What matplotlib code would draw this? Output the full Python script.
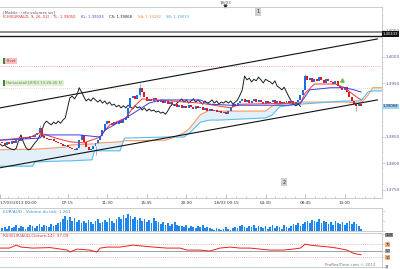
import numpy as np
import matplotlib
matplotlib.use('Agg')
import matplotlib.pyplot as plt
from matplotlib.ticker import FixedLocator, MultipleLocator
from matplotlib.patches import Rectangle

# 15 minute bars, bar 0 = 17/03/2013 00:00
open0 = 1.3840
closes = [1.3838, 1.3834, 1.3840, 1.3836, 1.3842, 1.3838,
          1.3843, 1.3842, 1.3847, 1.3845, 1.3849, 1.3847, 1.3851, 1.3849, 1.3853,
          1.3857, 1.3866, 1.3851,
          1.3847, 1.3845, 1.3843, 1.3845, 1.3842,
          1.3840, 1.3838, 1.3836, 1.3832, 1.3834, 1.3830, 1.3828, 1.3826,
          1.3825, 1.3828, 1.3843, 1.3853, 1.3840, 1.3830, 1.3825, 1.3826,
          1.3832, 1.3838, 1.3843, 1.3851, 1.3862, 1.3874,
          1.3879, 1.3875, 1.3872, 1.3877, 1.3874, 1.3879, 1.3875, 1.3881,
          1.3885, 1.3904, 1.3923, 1.3926, 1.3921, 1.3928, 1.3942,
          1.3934, 1.3925, 1.3917,
          1.3921, 1.3917, 1.3923, 1.3919, 1.3915,
          1.3919, 1.3913, 1.3917, 1.3911, 1.3915, 1.3909,
          1.3911, 1.3906, 1.3909, 1.3904, 1.3908,
          1.3904, 1.3909, 1.3906, 1.3902, 1.3908, 1.3904,
          1.3906, 1.3900, 1.3904, 1.3898, 1.3902,
          1.3898, 1.3900, 1.3896, 1.3898,
          1.3894, 1.3896, 1.3892, 1.3898,
          1.3906, 1.3911, 1.3908, 1.3913,
          1.3917, 1.3921, 1.3915, 1.3919, 1.3913, 1.3917, 1.3921, 1.3915, 1.3919,
          1.3915, 1.3911, 1.3917, 1.3913, 1.3915, 1.3919, 1.3913, 1.3917, 1.3911, 1.3915, 1.3913, 1.3917,
          1.3913, 1.3917, 1.3911, 1.3915, 1.3919,
          1.3928, 1.3938, 1.3964,
          1.3957, 1.3960, 1.3953, 1.3958, 1.3955, 1.3962, 1.3957, 1.3951, 1.3958, 1.3955,
          1.3953, 1.3949, 1.3955, 1.3945,
          1.3942, 1.3938, 1.3943, 1.3934,
          1.3925, 1.3917, 1.3911,
          1.3908, 1.3911, 1.3907]

wick_bars = [17, 41, 60, 131, 153]
wick_lows = [1.3850, 1.3816, 1.3925, 1.3938, 1.3898]
wick_highs = [1.3871, 1.3832, 1.3951, 1.3968, 1.3911]

volumes = [6, 8, 4, 10, 6, 8, 12, 6, 10, 8, 4, 8, 12, 10, 6, 10, 14, 8, 12, 10, 8, 14, 10, 12, 16,
           18, 24, 30, 22, 28, 20, 26, 18, 22, 16,
           20, 16, 22, 18, 14, 20, 24, 16, 18, 22,
           18, 26, 20, 16, 24,
           28, 24, 32, 26, 34, 30, 24, 28, 22, 26,
           20, 24, 18, 22, 16, 26, 20, 18,
           14, 18, 12, 16, 10, 14, 18, 12, 10,
           10, 8, 12, 6, 10, 8, 6, 10, 8, 12, 6, 8, 6,
           4, 2, 6, 4, 2, 4, 8, 4, 2, 6,
           8, 6, 10, 12, 8, 6, 10, 8, 12, 6, 10, 8,
           6, 10, 4, 8, 12, 6, 10, 8, 4, 12, 8, 6,
           10, 14, 12, 16, 10, 14,
           18, 20, 16, 22, 20, 18, 24, 16, 20, 18,
           14, 18, 12, 20, 16, 14, 18, 12, 16, 20, 14, 18,
           14, 10, 4]

# Ichimoku lines
tenkan_bars = [0, 13, 17, 24, 30, 36, 43, 47, 54, 57, 61, 67, 86, 99, 103, 129, 131, 135, 144, 148, 152, 155]
tenkan = [1.3843, 1.3849, 1.3857, 1.3847, 1.3840, 1.3838, 1.3849, 1.3872, 1.3885, 1.3904, 1.3921,
          1.3919, 1.3913, 1.3904, 1.3911, 1.3913, 1.3932, 1.3949, 1.3949, 1.3942, 1.3928, 1.3919]
kijun_bars = [0, 17, 19, 34, 43, 45, 49, 54, 58, 64, 69, 86, 90, 99, 124, 129, 133, 142, 148, 152, 155]
kijun = [1.3843, 1.3847, 1.3853, 1.3853, 1.3849, 1.3862, 1.3872, 1.3885, 1.3896, 1.3913, 1.3919,
         1.3919, 1.3911, 1.3909, 1.3909, 1.3913, 1.3938, 1.3942, 1.3942, 1.3938, 1.3934]
cloud_bars = [0, 14, 15, 28, 30, 39.5, 40.5, 43, 51.5, 53.5, 71, 75, 79, 81.5, 86, 90, 94,
              114, 117, 120, 124.5, 129, 148, 155, 158, 160, 165]
senkou_a = [1.3825, 1.3826, 1.3826, 1.3830, 1.3834, 1.3836, 1.3836, 1.3838, 1.3840, 1.3842, 1.3843,
            1.3849, 1.3857, 1.3866, 1.3891, 1.3900, 1.3898, 1.3898, 1.3908, 1.3911, 1.3913, 1.3915,
            1.3915, 1.3913, 1.3928, 1.3942, 1.3942]
senkou_b = [1.3794, 1.3794, 1.3802, 1.3804, 1.3804, 1.3806, 1.3823, 1.3823, 1.3823, 1.3847, 1.3849,
            1.3849, 1.3849, 1.3857, 1.3877, 1.3881, 1.3881, 1.3885, 1.3891, 1.3906, 1.3909, 1.3911,
            1.3917, 1.3917, 1.3934, 1.3936, 1.3936]

chan_bars = [0, 162]
chan_upper = [1.3904, 1.4034]
chan_lower = [1.3791, 1.3919]

rsi_bars = [0, 4, 7, 9, 14, 21.5, 29, 30, 33, 38.6, 41.6, 43, 46, 51.5, 57, 61.4, 65.7, 71.7, 77.3, 80.3,
            85.8, 90, 94.4, 98.7, 103, 107.3, 111.6, 116, 121.5, 125.8, 129, 131, 133, 137.3, 141.6,
            144.6, 149, 151.5, 153.2, 155]
rsi = [57.7, 57.7, 66.9, 60.8, 57.7, 59.2, 51.5, 45.4, 54.6, 51.5,
       45.4, 57.7, 60.8, 60.8, 66.9, 63.8, 60.8, 57.7, 57.7, 51.5,
       51.5, 48.5, 57.7, 60.8, 57.7, 57.7, 54.6, 51.5, 51.5, 54.6,
       57.7, 70.0, 66.9, 63.8, 60.8, 57.7, 51.5, 42.3, 39.2, 37.1]

time_ticks = [0, 29, 46, 63, 80, 97, 114, 131, 148]
time_labels = ['17/03/2013 00:00', '07:15', '11:30', '15:45', '20:00',
               '18/03 00:15', '04:30', '08:45', '13:00']
price_ticks = [1.3750, 1.3800, 1.3850, 1.3950, 1.4000, 1.4050]
last_price = 1.39068
hline_grey = 1.4047
hline_black = 1.4039
hline_label = 1.40433
pivot_line = 1.3983
horiz_line = 1.3941

W, H = 400, 269
XMAX = 164.0
FS = 3.0
RIGHT = 382


def px_rect(x0, y0, x1, y1):
    return [x0 / W, 1 - y1 / H, (x1 - x0) / W, (y1 - y0) / H]


fig = plt.figure(figsize=(4.0, 2.69), dpi=100)
ax = fig.add_axes(px_rect(0, 7, RIGHT, 198))
axv = fig.add_axes(px_rect(0, 208, RIGHT, 231))
axr = fig.add_axes(px_rect(0, 233, RIGHT, 267))

edge = '#c4c4c4'
axis_col = '#55558a'
for a in (ax, axv, axr):
    a.set_xlim(0, XMAX)
    for s in a.spines.values():
        s.set_color(edge)
        s.set_linewidth(0.6)
    a.spines['left'].set_visible(False)
    a.yaxis.tick_right()
    a.tick_params(axis='y', which='both', colors=edge, labelcolor=axis_col, labelsize=FS, pad=0.6)
    a.tick_params(axis='y', which='major', length=1.8, width=0.5)
    a.tick_params(axis='y', which='minor', length=1, width=0.4)

# ---- main price panel
c = np.array(closes)
o = np.r_[open0, c[:-1]]
bars = np.arange(1, len(c) + 1)
col = np.where(c >= o, '#1c6fe3', '#e5161c')
sa = np.array(senkou_a)
sb = np.array(senkou_b)
ax.fill_between(cloud_bars, sa, sb, where=sa >= sb, interpolate=True, color='#e3f0fa', lw=0, zorder=1)
ax.plot(cloud_bars, sa, color='#f59a62', lw=0.8, zorder=2)
ax.plot(cloud_bars, sb, color='#58bdf0', lw=0.8, zorder=2)
ax.plot(bars - 26, c, color='#1e1e1e', lw=0.7, zorder=3)
ax.vlines(wick_bars, wick_lows, wick_highs, color='#909090', lw=0.5, zorder=3)
ax.bar(bars, np.maximum(np.abs(c - o), 0.00006), bottom=np.minimum(o, c), width=0.85,
       color=col, lw=0, zorder=4)
ax.plot(tenkan_bars, tenkan, color='#f03a3a', lw=0.7, zorder=5)
ax.plot(kijun_bars, kijun, color='#3a3ae0', lw=0.7, zorder=5)
ax.plot(chan_bars, chan_upper, color='#111111', lw=0.8, zorder=6)
ax.plot(chan_bars, chan_lower, color='#111111', lw=0.8, zorder=6)
ax.axhline(hline_grey, color='#8c8c8c', lw=1.4, zorder=6)
ax.axhline(hline_black, color='#1a1a1a', lw=1.0, zorder=6)
ax.axhline(pivot_line, color='#f28a8a', lw=0.6, ls=(0, (1, 1.5)), zorder=2)
ax.axhline(horiz_line, color='#c8dc9a', lw=0.6, ls=(0, (1, 1.5)), zorder=2)
ax.plot([146.8], [1.3957], marker='^', ms=2.5, color='#70c040', zorder=7)

ax.set_ylim(1.37340, 1.40943)
ax.set_yticks(price_ticks)
ax.set_yticklabels(['%.4f' % p for p in price_ticks])
ax.yaxis.set_minor_locator(MultipleLocator(0.001))
ax.xaxis.set_major_locator(FixedLocator(time_ticks))
ax.xaxis.set_minor_locator(FixedLocator(np.arange(-5, XMAX, 4.25)))
ax.set_xticklabels(time_labels)
ax.tick_params(axis='x', which='both', direction='in', colors='#a0a0a0', labelcolor='#333333',
               labelsize=FS, pad=2.5)
ax.tick_params(axis='x', which='major', length=3, width=0.5)
ax.tick_params(axis='x', which='minor', length=1.5, width=0.4)
ax.get_xticklabels()[0].set_horizontalalignment('left')

ax.annotate('%.5f' % last_price, xy=(1.0, last_price), xycoords=('axes fraction', 'data'),
            xytext=(0.6, 0), textcoords='offset points', va='center', ha='left', fontsize=2.7,
            color='#1a1a3a', bbox=dict(boxstyle='square,pad=0.2', fc='#9ed4f5', ec='none'),
            annotation_clip=False, zorder=10)
ax.annotate('%.5f' % hline_label, xy=(1.0, hline_label), xycoords=('axes fraction', 'data'),
            xytext=(0.6, 0), textcoords='offset points', va='center', ha='left', fontsize=2.7,
            color='white', bbox=dict(boxstyle='square,pad=0.2', fc='#111111', ec='none'),
            annotation_clip=False, zorder=10)
ax.text(110.7, 1.4085, '1', fontsize=3.6, ha='center', va='center', color='#333333',
        bbox=dict(boxstyle='square,pad=0.3', fc='#d0d0d0', ec='none'), zorder=8)
ax.text(121.9, 1.3764, '2', fontsize=3.6, ha='center', va='center', color='#333333',
        bbox=dict(boxstyle='square,pad=0.3', fc='#d0d0d0', ec='none'), zorder=8)
ax.text(96.6, 1.022, '18/03', transform=ax.get_xaxis_transform(), fontsize=FS, ha='center',
        va='center', color='#555555', clip_on=False)
ax.plot([96.6], [1.006], transform=ax.get_xaxis_transform(), marker='v', ms=2, color='#333333',
        clip_on=False)

# header texts
fig.text(3 / W, 1 - 12 / H, '[Mobile : info volumes six]', fontsize=2.8, color='#555555', va='center')
hdr = [(3, 'ICH(EUR/AUD, 9, 26, 52) - TL: 1.39050', '#e02020'),
       (81, 'KL: 1.39033', '#4040d0'),
       (109, 'CS: 1.39068', '#222222'),
       (138, 'SA: 1.39282', '#f08a50'),
       (166, 'SB: 1.39033', '#40a8e8')]
for x, s, cc in hdr:
    fig.text(x / W, 1 - 17 / H, s, fontsize=2.7, color=cc, va='center')

# drawing labels
fig.add_artist(Rectangle((3 / W, 1 - 64 / H), 3 / W, 6 / H, color='#3a8a3a', lw=0))
fig.text(6.5 / W, 1 - 61 / H, 'Pivot', fontsize=2.8, color='#c03030', va='center',
         bbox=dict(boxstyle='square,pad=0.3', fc='#f7c0c0', ec='none'))
fig.add_artist(Rectangle((3 / W, 1 - 86 / H), 3 / W, 6 / H, color='#3a8a3a', lw=0))
fig.text(6.5 / W, 1 - 83 / H, 'Horizontal(18/03 13:26:26.5)', fontsize=2.8, color='#558855', va='center',
         bbox=dict(boxstyle='square,pad=0.3', fc='#e4f0d4', ec='none'))

# ---- volume panel
axv.bar(bars, volumes, width=0.75, color='#1f86ec', lw=0)
axv.set_ylim(0, 46)
axv.set_xticks([])
axv.set_yticks([0, 20, 40])
axv.set_yticklabels([])
axv.yaxis.set_minor_locator(MultipleLocator(5))
axv.text(0.008, 0.93, 'EUR/AUD - Volume du tick: 1 261', transform=axv.transAxes, fontsize=FS,
         color='#3a8ad8', va='top')

# ---- RSI panel
axr.axhline(70, color='#f4a08a', lw=0.6, ls=(0, (1, 1.5)))
axr.axhline(30, color='#f4a08a', lw=0.6, ls=(0, (1, 1.5)))
axr.axhline(50, color='#909090', lw=0.6)
axr.plot(rsi_bars, rsi, color='#e82020', lw=0.7)
axr.set_ylim(-1, 104.5)
axr.set_xticks([])
rsi_levels = [0, 30, 50, 70, 100]
axr.set_yticks(rsi_levels)
axr.set_yticklabels([str(v) for v in rsi_levels])
axr.tick_params(axis='y', labelsize=2.6)
box_cols = ['#d8d8d8', '#f6b07a', '#a8a8a8', '#f6b07a', '#8a8a8a']
for lbl, bc in zip(axr.get_yticklabels(), box_cols):
    lbl.set_bbox(dict(boxstyle='square,pad=0.1', fc=bc, ec='none'))
    lbl.set_color('#222222')
axr.text(0.008, 0.97, 'RSI(EUR/AUD,Clôture,14): 37.09', transform=axr.transAxes, fontsize=FS,
         color='#e03030', va='top')
fig.text(375 / W, 1 - 265 / H, 'ProRealTime.com © 2013', fontsize=2.8, color='#777777',
         ha='right', va='center')

fig.savefig('out.png', dpi=100)
